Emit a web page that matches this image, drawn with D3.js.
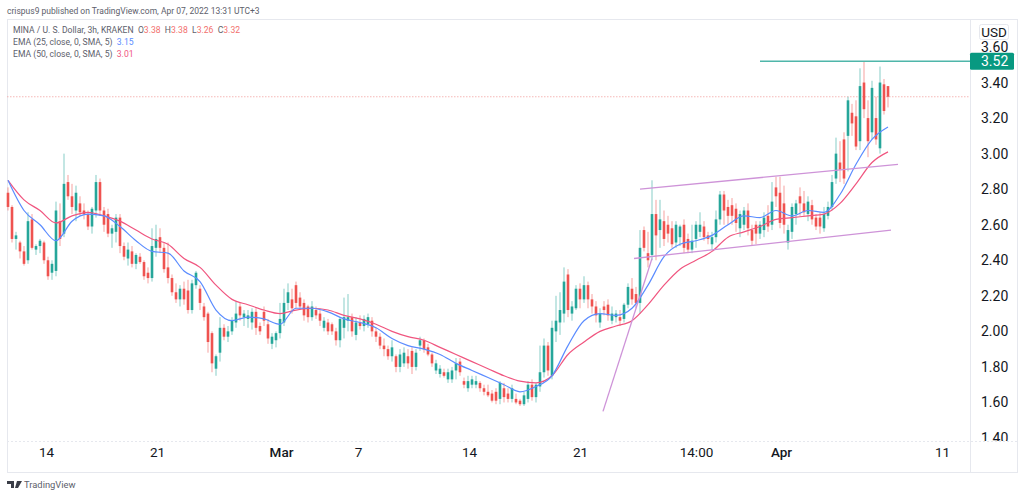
<!DOCTYPE html>
<html>
<head>
<meta charset="utf-8">
<script src="https://cdn.jsdelivr.net/npm/d3@7"></script>
<style>
  html, body { margin: 0; padding: 0; background: #fff; }
  svg { display: block; font-family: Roboto, sans-serif; }
</style>
</head>
<body>
<svg id="chart" width="1024" height="497"></svg>
<script>
// 3h candles (one candle per 4px column, left to right)
const opens = [
  2.78,2.70,2.52,2.50,2.45,2.40,2.63,2.46,2.48,2.50,
  2.40,2.33,2.34,2.62,2.55,2.84,2.76,2.68,2.72,2.68,
  2.66,2.59,2.68,2.84,2.68,2.66,2.55,2.56,2.64,2.48,
  2.41,2.45,2.38,2.42,2.39,2.33,2.30,2.47,2.53,2.47,
  2.36,2.30,2.22,2.18,2.24,2.23,2.12,2.26,2.24,2.14,
  2.10,1.99,1.79,1.88,2.02,1.97,2.00,2.05,2.14,2.08,
  2.07,2.05,2.11,2.03,2.11,2.04,1.93,1.95,1.99,2.05,
  2.16,2.18,2.26,2.19,2.16,2.14,2.08,2.12,2.10,2.02,
  2.05,2.04,2.00,1.95,2.02,2.06,2.08,1.98,2.05,2.03,
  2.04,2.06,2.00,1.97,1.92,1.90,1.86,1.86,1.80,1.82,
  1.86,1.89,1.80,1.92,1.95,1.91,1.87,1.78,1.76,1.77,
  1.73,1.73,1.78,1.83,1.72,1.68,1.70,1.70,1.71,1.68,
  1.66,1.65,1.66,1.62,1.68,1.65,1.62,1.62,1.61,1.59,
  1.62,1.70,1.63,1.69,1.77,1.92,1.75,2.00,2.05,2.10,
  2.32,2.10,2.13,2.24,2.18,2.26,2.18,2.14,2.05,2.14,
  2.15,2.06,2.08,2.08,2.07,2.15,2.24,2.21,2.16,2.57,
  2.44,2.43,2.66,2.57,2.62,2.60,2.58,2.50,2.53,2.60,
  2.52,2.46,2.52,2.56,2.59,2.54,2.49,2.53,2.63,2.77,
  2.70,2.71,2.69,2.58,2.60,2.68,2.57,2.60,2.55,2.57,
  2.65,2.60,2.81,2.78,2.72,2.50,2.56,2.66,2.76,2.72,
  2.66,2.71,2.64,2.64,2.58,2.65,2.70,2.86,2.95,3.08,
  3.10,3.23,3.21,3.07,3.40,3.20,3.12,3.20,3.03,3.39,3.38
];
const highs = [
  2.81,2.71,2.56,2.51,2.48,2.67,2.66,2.49,2.52,2.51,
  2.42,2.40,2.73,2.72,3.00,2.88,2.83,2.82,2.76,2.72,
  2.68,2.70,2.88,2.86,2.70,2.69,2.60,2.66,2.66,2.50,
  2.50,2.48,2.44,2.44,2.40,2.36,2.58,2.60,2.58,2.50,
  2.50,2.32,2.27,2.26,2.28,2.29,2.29,2.34,2.26,2.16,
  2.11,2.00,1.87,2.08,2.04,2.03,2.08,2.17,2.16,2.12,
  2.12,2.13,2.13,2.05,2.14,2.07,1.99,2.00,2.16,2.24,
  2.27,2.24,2.28,2.22,2.18,2.15,2.17,2.14,2.12,2.08,
  2.07,2.05,2.02,2.08,2.19,2.21,2.10,2.08,2.09,2.09,
  2.10,2.08,2.02,1.99,1.96,1.92,1.95,1.87,1.90,1.91,
  1.90,1.91,1.90,1.97,1.96,1.93,1.88,1.84,1.81,1.79,
  1.79,1.80,1.85,1.85,1.74,1.75,1.75,1.75,1.72,1.70,
  1.70,1.67,1.68,1.72,1.71,1.68,1.70,1.65,1.62,1.66,
  1.72,1.73,1.71,1.92,1.96,1.94,2.06,2.20,2.22,2.36,
  2.35,2.17,2.26,2.27,2.31,2.28,2.21,2.17,2.13,2.17,
  2.18,2.14,2.12,2.12,2.16,2.27,2.30,2.25,2.57,2.59,
  2.56,2.85,2.74,2.74,2.68,2.65,2.62,2.62,2.60,2.63,
  2.55,2.60,2.62,2.67,2.62,2.56,2.56,2.68,2.79,2.79,
  2.74,2.75,2.72,2.68,2.70,2.72,2.60,2.62,2.62,2.67,
  2.71,2.84,2.87,2.87,2.82,2.60,2.72,2.74,2.81,2.79,
  2.76,2.74,2.66,2.67,2.70,2.73,2.88,3.09,3.07,3.12,
  3.32,3.28,3.30,3.48,3.52,3.30,3.41,3.32,3.49,3.42,3.38
];
const lows = [
  2.68,2.50,2.46,2.41,2.37,2.38,2.46,2.43,2.44,2.38,
  2.29,2.29,2.31,2.48,2.53,2.74,2.66,2.62,2.65,2.63,
  2.57,2.55,2.64,2.65,2.56,2.53,2.47,2.50,2.44,2.40,
  2.37,2.36,2.35,2.38,2.29,2.27,2.28,2.42,2.44,2.33,
  2.27,2.20,2.16,2.14,2.15,2.10,2.10,2.24,2.12,2.06,
  1.88,1.77,1.75,1.83,1.95,1.94,1.98,2.02,2.06,2.03,
  2.02,2.01,1.98,1.98,2.03,1.93,1.90,1.91,1.96,2.03,
  2.12,2.10,2.13,2.12,2.06,2.05,2.06,2.07,2.03,2.00,
  1.98,1.98,1.92,1.91,1.96,2.00,1.97,1.95,2.01,2.00,
  2.02,1.97,1.94,1.90,1.86,1.84,1.83,1.77,1.77,1.80,
  1.79,1.76,1.78,1.89,1.88,1.86,1.80,1.76,1.74,1.74,
  1.71,1.71,1.73,1.75,1.68,1.66,1.68,1.68,1.66,1.64,
  1.63,1.60,1.59,1.59,1.60,1.60,1.60,1.59,1.58,1.58,
  1.60,1.61,1.60,1.66,1.74,1.75,1.73,1.94,1.98,2.05,
  2.08,2.06,2.12,2.13,2.16,2.13,2.10,2.05,2.02,2.09,
  2.06,2.04,2.05,2.03,2.05,2.13,2.15,2.13,2.10,2.45,
  2.36,2.40,2.40,2.47,2.48,2.50,2.47,2.47,2.48,2.44,
  2.44,2.44,2.47,2.53,2.51,2.49,2.46,2.50,2.60,2.60,
  2.60,2.60,2.56,2.53,2.57,2.54,2.48,2.49,2.52,2.53,
  2.56,2.57,2.70,2.58,2.55,2.46,2.52,2.60,2.65,2.65,
  2.62,2.60,2.57,2.55,2.56,2.63,2.68,2.83,2.84,2.83,
  2.90,3.10,3.02,3.02,3.20,2.98,3.08,3.05,3.00,3.22,3.26
];
const closes = [
  2.70,2.52,2.54,2.45,2.38,2.62,2.47,2.48,2.51,2.40,
  2.31,2.38,2.68,2.52,2.83,2.76,2.70,2.78,2.67,2.66,
  2.59,2.69,2.84,2.68,2.60,2.55,2.58,2.64,2.48,2.42,
  2.46,2.38,2.43,2.39,2.31,2.30,2.48,2.52,2.47,2.35,
  2.30,2.22,2.18,2.24,2.18,2.12,2.27,2.33,2.16,2.08,
  1.94,1.82,1.86,2.02,1.97,2.00,2.06,2.10,2.09,2.10,
  2.09,2.11,2.02,2.00,2.06,1.96,1.97,1.99,2.07,2.16,
  2.22,2.13,2.16,2.14,2.09,2.08,2.14,2.09,2.06,2.06,
  2.00,2.00,1.95,2.07,2.08,2.08,2.00,2.05,2.03,2.07,
  2.08,2.00,1.97,1.92,1.90,1.86,1.91,1.80,1.87,1.88,
  1.82,1.80,1.88,1.95,1.90,1.87,1.82,1.82,1.79,1.75,
  1.77,1.78,1.82,1.77,1.70,1.72,1.73,1.72,1.68,1.66,
  1.64,1.61,1.61,1.71,1.63,1.62,1.68,1.60,1.59,1.64,
  1.70,1.63,1.70,1.77,1.92,1.78,2.02,2.06,2.12,2.28,
  2.12,2.14,2.24,2.18,2.26,2.18,2.14,2.09,2.10,2.12,
  2.09,2.10,2.10,2.06,2.15,2.25,2.18,2.16,2.47,2.47,
  2.40,2.66,2.54,2.63,2.52,2.55,2.49,2.60,2.59,2.47,
  2.46,2.51,2.60,2.60,2.53,2.52,2.53,2.63,2.77,2.68,
  2.65,2.65,2.61,2.66,2.68,2.58,2.51,2.55,2.60,2.64,
  2.59,2.73,2.76,2.61,2.60,2.57,2.70,2.72,2.72,2.67,
  2.73,2.63,2.59,2.59,2.66,2.70,2.84,3.00,2.91,2.86,
  3.30,3.17,3.04,3.38,3.25,3.07,3.37,3.08,3.40,3.24,3.32
];

// EMA lines, sampled every 4 candles
const ema25 = [
  2.85,2.68,2.60,2.51,2.62,2.66,2.65,2.59,2.51,2.45,2.44,2.34,2.28,2.12,
  2.06,2.08,2.07,2.04,2.13,2.13,2.11,2.07,2.05,2.02,1.96,1.92,1.90,1.87,
  1.82,1.78,1.74,1.70,1.66,1.69,1.75,1.92,2.06,2.10,2.09,2.13,2.26,2.42,
  2.49,2.51,2.54,2.60,2.65,2.64,2.68,2.65,2.68,2.67,2.77,2.94,3.08,3.15
];
const ema50 = [
  2.85,2.74,2.68,2.61,2.65,2.67,2.65,2.62,2.57,2.52,2.49,2.41,2.36,2.26,
  2.18,2.15,2.12,2.10,2.12,2.13,2.12,2.09,2.07,2.04,2.00,1.97,1.95,1.91,
  1.87,1.83,1.79,1.75,1.72,1.71,1.75,1.87,1.94,2.00,2.03,2.06,2.15,2.26,
  2.35,2.40,2.45,2.53,2.56,2.59,2.63,2.64,2.65,2.66,2.72,2.83,2.95,3.01
];
const emaStep = 4;

const priceTicks = [1.4, 1.6, 1.8, 2.0, 2.2, 2.4, 2.6, 2.8, 3.0, 3.2, 3.4, 3.6];
const timeTicks = [9.5, 37.25, 68.25, 87.5, 115.25, 143, 172, 193.25, 233.5];
const timeLabels = ["14", "21", "Mar", "7", "14", "21", "14:00", "Apr", "11"];

const lastPrice = 3.32;
const resistance = { from: 188, to: 240.75, price: 3.52 };
const trendLines = [
  { x1: 158, y1: 2.80, x2: 222.5, y2: 2.94 },    // channel top
  { x1: 156.5, y1: 2.41, x2: 220.75, y2: 2.57 }, // channel bottom
  { x1: 148.75, y1: 1.55, x2: 161, y2: 2.41 }    // steep rise
];

const THEME = {
  up: "#26a69a",
  down: "#ef5350",
  ema25: "#5b8cff",
  ema50: "#f0557f",
  drawing: "#ce93d8",
  level: "#4fb6aa",
  tag: "#089981",
  frame: "#e6e8ee",
  text: "#131722",
  muted: "#5d606b"
};

const svg = d3.select("#chart");
const plot = { left: 7, right: 970, top: 19, bottom: 441, frameRight: 1017, frameBottom: 472 };

const x = d3.scaleLinear().domain([-0.25, 240.75]).range([7, 971]);
const y = d3.scaleLinear().domain([1.4, 3.6]).range([438, 47]);

// 1.40 gets cut off by the time axis, same as the original
svg.append("clipPath").attr("id", "price-clip")
  .append("rect").attr("x", plot.right).attr("y", plot.top)
  .attr("width", plot.frameRight - plot.right).attr("height", plot.bottom - plot.top);

// Frame
const frame = svg.append("g").attr("stroke", THEME.frame).attr("fill", "none");
frame.append("rect")
  .attr("x", plot.left + 0.5).attr("y", plot.top + 0.5)
  .attr("width", plot.frameRight - plot.left).attr("height", plot.frameBottom - plot.top);
frame.append("line")
  .attr("x1", plot.left).attr("x2", plot.frameRight)
  .attr("y1", plot.bottom + 0.5).attr("y2", plot.bottom + 0.5)
  .attr("stroke-dasharray", "2,2");
frame.append("line")
  .attr("x1", plot.right + 0.5).attr("x2", plot.right + 0.5)
  .attr("y1", plot.top).attr("y2", plot.frameBottom);

// Last price line
svg.append("line")
  .attr("x1", plot.left).attr("x2", plot.right)
  .attr("y1", y(lastPrice)).attr("y2", y(lastPrice))
  .attr("stroke", "#f4a6a4").attr("stroke-width", 0.8)
  .attr("stroke-dasharray", "1.5,1.5");

// Candles
const candles = svg.append("g").selectAll("g")
  .data(closes.map((c, i) => i))
  .join("g")
  .attr("fill", i => closes[i] >= opens[i] ? THEME.up : THEME.down)
  .attr("stroke", i => closes[i] >= opens[i] ? THEME.up : THEME.down);

candles.append("line")
  .attr("x1", i => x(i)).attr("x2", i => x(i))
  .attr("y1", i => y(highs[i])).attr("y2", i => y(lows[i]))
  .attr("stroke-width", 1)
  .attr("stroke-opacity", 0.55);

candles.append("rect")
  .attr("x", i => x(i) - 1.3)
  .attr("width", 2.6)
  .attr("y", i => y(Math.max(opens[i], closes[i])))
  .attr("height", i => Math.max(1, Math.abs(y(opens[i]) - y(closes[i]))))
  .attr("stroke", "none");

// EMA lines
const emaLine = d3.line()
  .x((d, i) => x(i * emaStep))
  .y(d => y(d))
  .curve(d3.curveMonotoneX);

svg.append("path").attr("d", emaLine(ema50))
  .attr("fill", "none").attr("stroke", THEME.ema50).attr("stroke-width", 1.2);
svg.append("path").attr("d", emaLine(ema25))
  .attr("fill", "none").attr("stroke", THEME.ema25).attr("stroke-width", 1.2);

// Drawings
svg.append("g").selectAll("line")
  .data(trendLines)
  .join("line")
  .attr("x1", d => x(d.x1)).attr("y1", d => y(d.y1))
  .attr("x2", d => x(d.x2)).attr("y2", d => y(d.y2))
  .attr("stroke", THEME.drawing).attr("stroke-width", 1.3);

svg.append("line")
  .attr("x1", x(resistance.from)).attr("x2", x(resistance.to))
  .attr("y1", y(resistance.price)).attr("y2", y(resistance.price))
  .attr("stroke", THEME.level).attr("stroke-width", 1.6);

// Axes
const priceAxis = d3.axisRight(y)
  .tickValues(priceTicks)
  .tickSize(0)
  .tickPadding(0)
  .tickFormat(d3.format(".2f"));

svg.append("g")
  .attr("clip-path", "url(#price-clip)")
  .append("g")
  .attr("transform", `translate(${plot.right + 11},0)`)
  .call(priceAxis)
  .call(g => g.select(".domain").remove())
  .selectAll("text")
  .attr("font-family", "Roboto, sans-serif")
  .attr("font-size", 14)
  .attr("fill", THEME.text);

const timeAxis = d3.axisBottom(x)
  .tickValues(timeTicks)
  .tickSize(0)
  .tickPadding(0)
  .tickFormat((d, i) => timeLabels[i]);

svg.append("g")
  .attr("transform", `translate(0,${plot.bottom + 6})`)
  .call(timeAxis)
  .call(g => g.select(".domain").remove())
  .selectAll("text")
  .attr("font-family", "Roboto, sans-serif")
  .attr("font-size", 13.5)
  .attr("font-weight", (d, i) => /^[A-Z]/.test(timeLabels[i]) ? 500 : 400)
  .attr("fill", THEME.text);

// Price tag on the axis
svg.append("rect")
  .attr("x", plot.right).attr("y", y(resistance.price) - 8.5)
  .attr("width", 44).attr("height", 17).attr("rx", 1.5)
  .attr("fill", THEME.tag);
svg.append("text")
  .attr("x", plot.right + 11).attr("y", y(resistance.price) + 5)
  .attr("font-family", "Roboto, sans-serif").attr("font-size", 14)
  .attr("fill", "#fff")
  .text(d3.format(".2f")(resistance.price));

// USD box
svg.append("rect")
  .attr("x", 979.5).attr("y", 24.5).attr("width", 29).attr("height", 15).attr("rx", 2)
  .attr("fill", "#fff").attr("stroke", THEME.frame);
svg.append("text")
  .attr("x", 994).attr("y", 37).attr("text-anchor", "middle")
  .attr("font-family", "Roboto, sans-serif").attr("font-size", 13.5)
  .attr("fill", THEME.text).text("USD");

// Header and legend
svg.append("text")
  .attr("x", 7).attr("y", 14)
  .attr("font-size", 8.5).attr("fill", THEME.muted)
  .text("crispus9 published on TradingView.com, Apr 07, 2022 13:31 UTC+3");

function legendRow(rowY, parts) {
  const t = svg.append("text")
    .attr("x", 13).attr("y", rowY)
    .attr("font-size", 8.6).attr("fill", THEME.muted)
    .attr("xml:space", "preserve");
  parts.forEach(p => t.append("tspan").attr("fill", p.color || null).text(p.text));
}

legendRow(33, [
  { text: "MINA / U. S. Dollar, 3h, KRAKEN  O" }, { text: "3.38", color: "#f2706d" },
  { text: "  H" }, { text: "3.38", color: "#f2706d" },
  { text: "  L" }, { text: "3.26", color: "#f2706d" },
  { text: "  C" }, { text: "3.32", color: "#f2706d" }
]);
legendRow(45, [
  { text: "EMA (25, close, 0, SMA, 5)  " }, { text: "3.15", color: THEME.ema25 }
]);
legendRow(57, [
  { text: "EMA (50, close, 0, SMA, 5)  " }, { text: "3.01", color: THEME.ema50 }
]);

// Footer
svg.append("path")
  .attr("d", "M7 481h7v7h-3v-4h-4zM17 481h5l-4 7h-3z")
  .attr("fill", "#3a3d47");
svg.append("text")
  .attr("x", 24).attr("y", 488)
  .attr("font-size", 9.4).attr("fill", THEME.muted)
  .text("TradingView");
</script>
</body>
</html>
